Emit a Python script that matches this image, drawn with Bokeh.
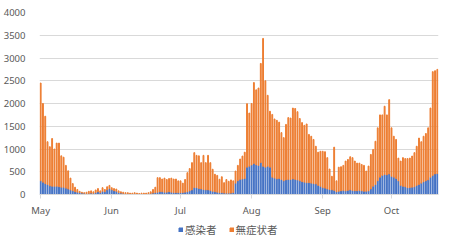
import pandas as pd
from bokeh.plotting import figure
from bokeh.layouts import column
from bokeh.models import ColumnDataSource, Range1d, Legend, LegendItem, FixedTicker
from bokeh.embed import file_html
from bokeh.resources import INLINE

# ---- data (daily, 1 May .. 21 Oct) ----
series_names = ["感染者", "無症状者"]
series_colors = ["#4472C4", "#ED7D31"]
month_labels = ["May", "Jun", "Jul", "Aug", "Sep", "Oct"]
y_ticks = [0, 500, 1000, 1500, 2000, 2500, 3000, 3500, 4000]

# total height of each stacked bar
total_may = [2450, 2000, 1720, 1160, 1050, 1230, 1000, 1130, 1130, 850, 820, 640, 520, 360, 240,
             160, 110, 70, 50, 40, 50, 70, 80, 60, 100, 130, 80, 150, 110, 170, 200]
total_jun = [150, 130, 120, 80, 60, 50, 40, 40, 30, 30, 40, 30, 20, 30, 30, 30, 40, 60, 110, 160,
             370, 370, 340, 360, 330, 350, 360, 340, 340, 300]
total_jul = [300, 250, 330, 480, 570, 700, 920, 860, 850, 700, 860, 700, 860, 700, 555, 445, 420,
             335, 390, 260, 330, 290, 320, 300, 515, 640, 780, 845, 930, 1995, 1790]
total_aug = [2000, 2460, 2300, 2340, 2880, 3430, 2500, 2180, 1830, 1760, 1660, 1630, 1590, 1360,
             1250, 1540, 1690, 1680, 1900, 1890, 1820, 1670, 1580, 1520, 1550, 1320, 1280, 1210,
             1060, 930, 950]
total_sep = [950, 940, 810, 560, 400, 1040, 300, 600, 610, 640, 735, 770, 830, 810, 735, 690, 690,
             660, 640, 515, 625, 880, 990, 1170, 1465, 1750, 1750, 1940, 1750, 2085]
total_oct = [1465, 1280, 1210, 800, 735, 810, 790, 790, 800, 845, 920, 1060, 1240, 1160, 1280,
             1340, 1465, 1900, 2700, 2720, 2750]

# 感染者 (blue, bottom of stack)
inf_may = [300, 270, 240, 220, 190, 180, 180, 180, 170, 160, 160, 140, 120, 100, 80, 60, 50, 40,
           30, 25, 20, 20, 30, 25, 40, 60, 40, 70, 60, 100, 130]
inf_jun = [100, 80, 70, 40, 30, 20, 15, 15, 10, 10, 15, 10, 8, 10, 10, 10, 15, 20, 30, 40, 50, 60,
           60, 50, 50, 60, 50, 40, 40, 40]
inf_jul = [40, 40, 50, 60, 80, 100, 150, 150, 130, 120, 110, 100, 100, 90, 70, 60, 50, 40, 40, 30,
           30, 30, 30, 40, 250, 300, 330, 340, 350, 600, 620]
inf_aug = [650, 680, 650, 640, 700, 620, 600, 620, 600, 380, 360, 340, 350, 330, 300, 320, 330,
           330, 340, 330, 320, 300, 280, 270, 260, 260, 250, 240, 230, 200, 180]
inf_sep = [150, 140, 120, 110, 100, 90, 60, 70, 80, 90, 80, 90, 100, 90, 80, 80, 90, 80, 70, 70,
           80, 120, 180, 220, 300, 380, 420, 440, 430, 450]
inf_oct = [400, 380, 350, 300, 200, 180, 170, 150, 150, 160, 170, 200, 220, 250, 280, 300, 320,
           380, 420, 450, 460]

total = total_may + total_jun + total_jul + total_aug + total_sep + total_oct
infected = inf_may + inf_jun + inf_jul + inf_aug + inf_sep + inf_oct
asymptomatic = [t - i for t, i in zip(total, infected)]
dates = pd.date_range("2022-05-01", periods=len(total), freq="D")
month_starts = pd.date_range("2022-05-01", periods=len(month_labels), freq="MS")

src = ColumnDataSource(dict(date=dates, infected=infected, asymptomatic=asymptomatic))

DAY_MS = 86400000
half = pd.Timedelta(hours=12)
p = figure(width=450, height=219, x_axis_type="datetime", output_backend="svg",
           toolbar_location=None,
           x_range=Range1d(dates[0] - half, dates[-1] + half),
           y_range=Range1d(0, 4000),
           min_border_left=38, min_border_right=12, min_border_top=12, min_border_bottom=24)

p.vbar_stack(["infected", "asymptomatic"], x="date", width=0.38 * DAY_MS,
             color=series_colors, source=src)

p.outline_line_color = None
p.xgrid.grid_line_color = None
p.ygrid.grid_line_color = "#D9D9D9"
p.ygrid.grid_line_width = 1

text_color = "#595959"
tick_font = "Noto Sans"

p.yaxis.ticker = FixedTicker(ticks=y_ticks)
p.yaxis.axis_line_color = None
p.yaxis.major_tick_line_color = None
p.yaxis.minor_tick_line_color = None
p.yaxis.major_label_text_font = tick_font
p.yaxis.major_label_text_font_size = "9.5px"
p.yaxis.major_label_text_color = text_color
p.yaxis.major_label_standoff = 8

tick_ms = [ts.value / 1e6 for ts in month_starts]
p.xaxis.ticker = FixedTicker(ticks=tick_ms)
p.xaxis.major_label_overrides = {t: lab for t, lab in zip(tick_ms, month_labels)}
p.xaxis.axis_line_color = "#D9D9D9"
p.xaxis.major_tick_line_color = "#D9D9D9"
p.xaxis.major_tick_out = 4
p.xaxis.major_tick_in = 0
p.xaxis.minor_tick_line_color = None
p.xaxis.major_label_text_font = tick_font
p.xaxis.major_label_text_font_size = "9.5px"
p.xaxis.major_label_text_color = text_color
p.xaxis.major_label_standoff = 5

# ---- legend strip under the chart ----
lg = figure(width=450, height=30, output_backend="svg", toolbar_location=None,
            x_range=Range1d(0, 1), y_range=Range1d(0, 1), min_border=0)
lg.axis.visible = False
lg.grid.grid_line_color = None
lg.outline_line_color = None
key_renderers = [lg.rect(x=[-5], y=[-5], width=1, height=1, fill_color=c, line_color=c)
                 for c in series_colors]
legend = Legend(items=[LegendItem(label=n, renderers=[r]) for n, r in zip(series_names, key_renderers)],
                orientation="horizontal", location=(139, 12),
                padding=0, margin=0, spacing=12, label_height=12, label_width=10,
                glyph_height=5, glyph_width=5, label_standoff=2,
                border_line_color=None, background_fill_alpha=0,
                label_text_font="Noto Sans CJK JP", label_text_font_size="10.5px",
                label_text_color=text_color)
lg.add_layout(legend, "center")

open("out.html", "w").write(file_html(column(p, lg, spacing=0), INLINE))
